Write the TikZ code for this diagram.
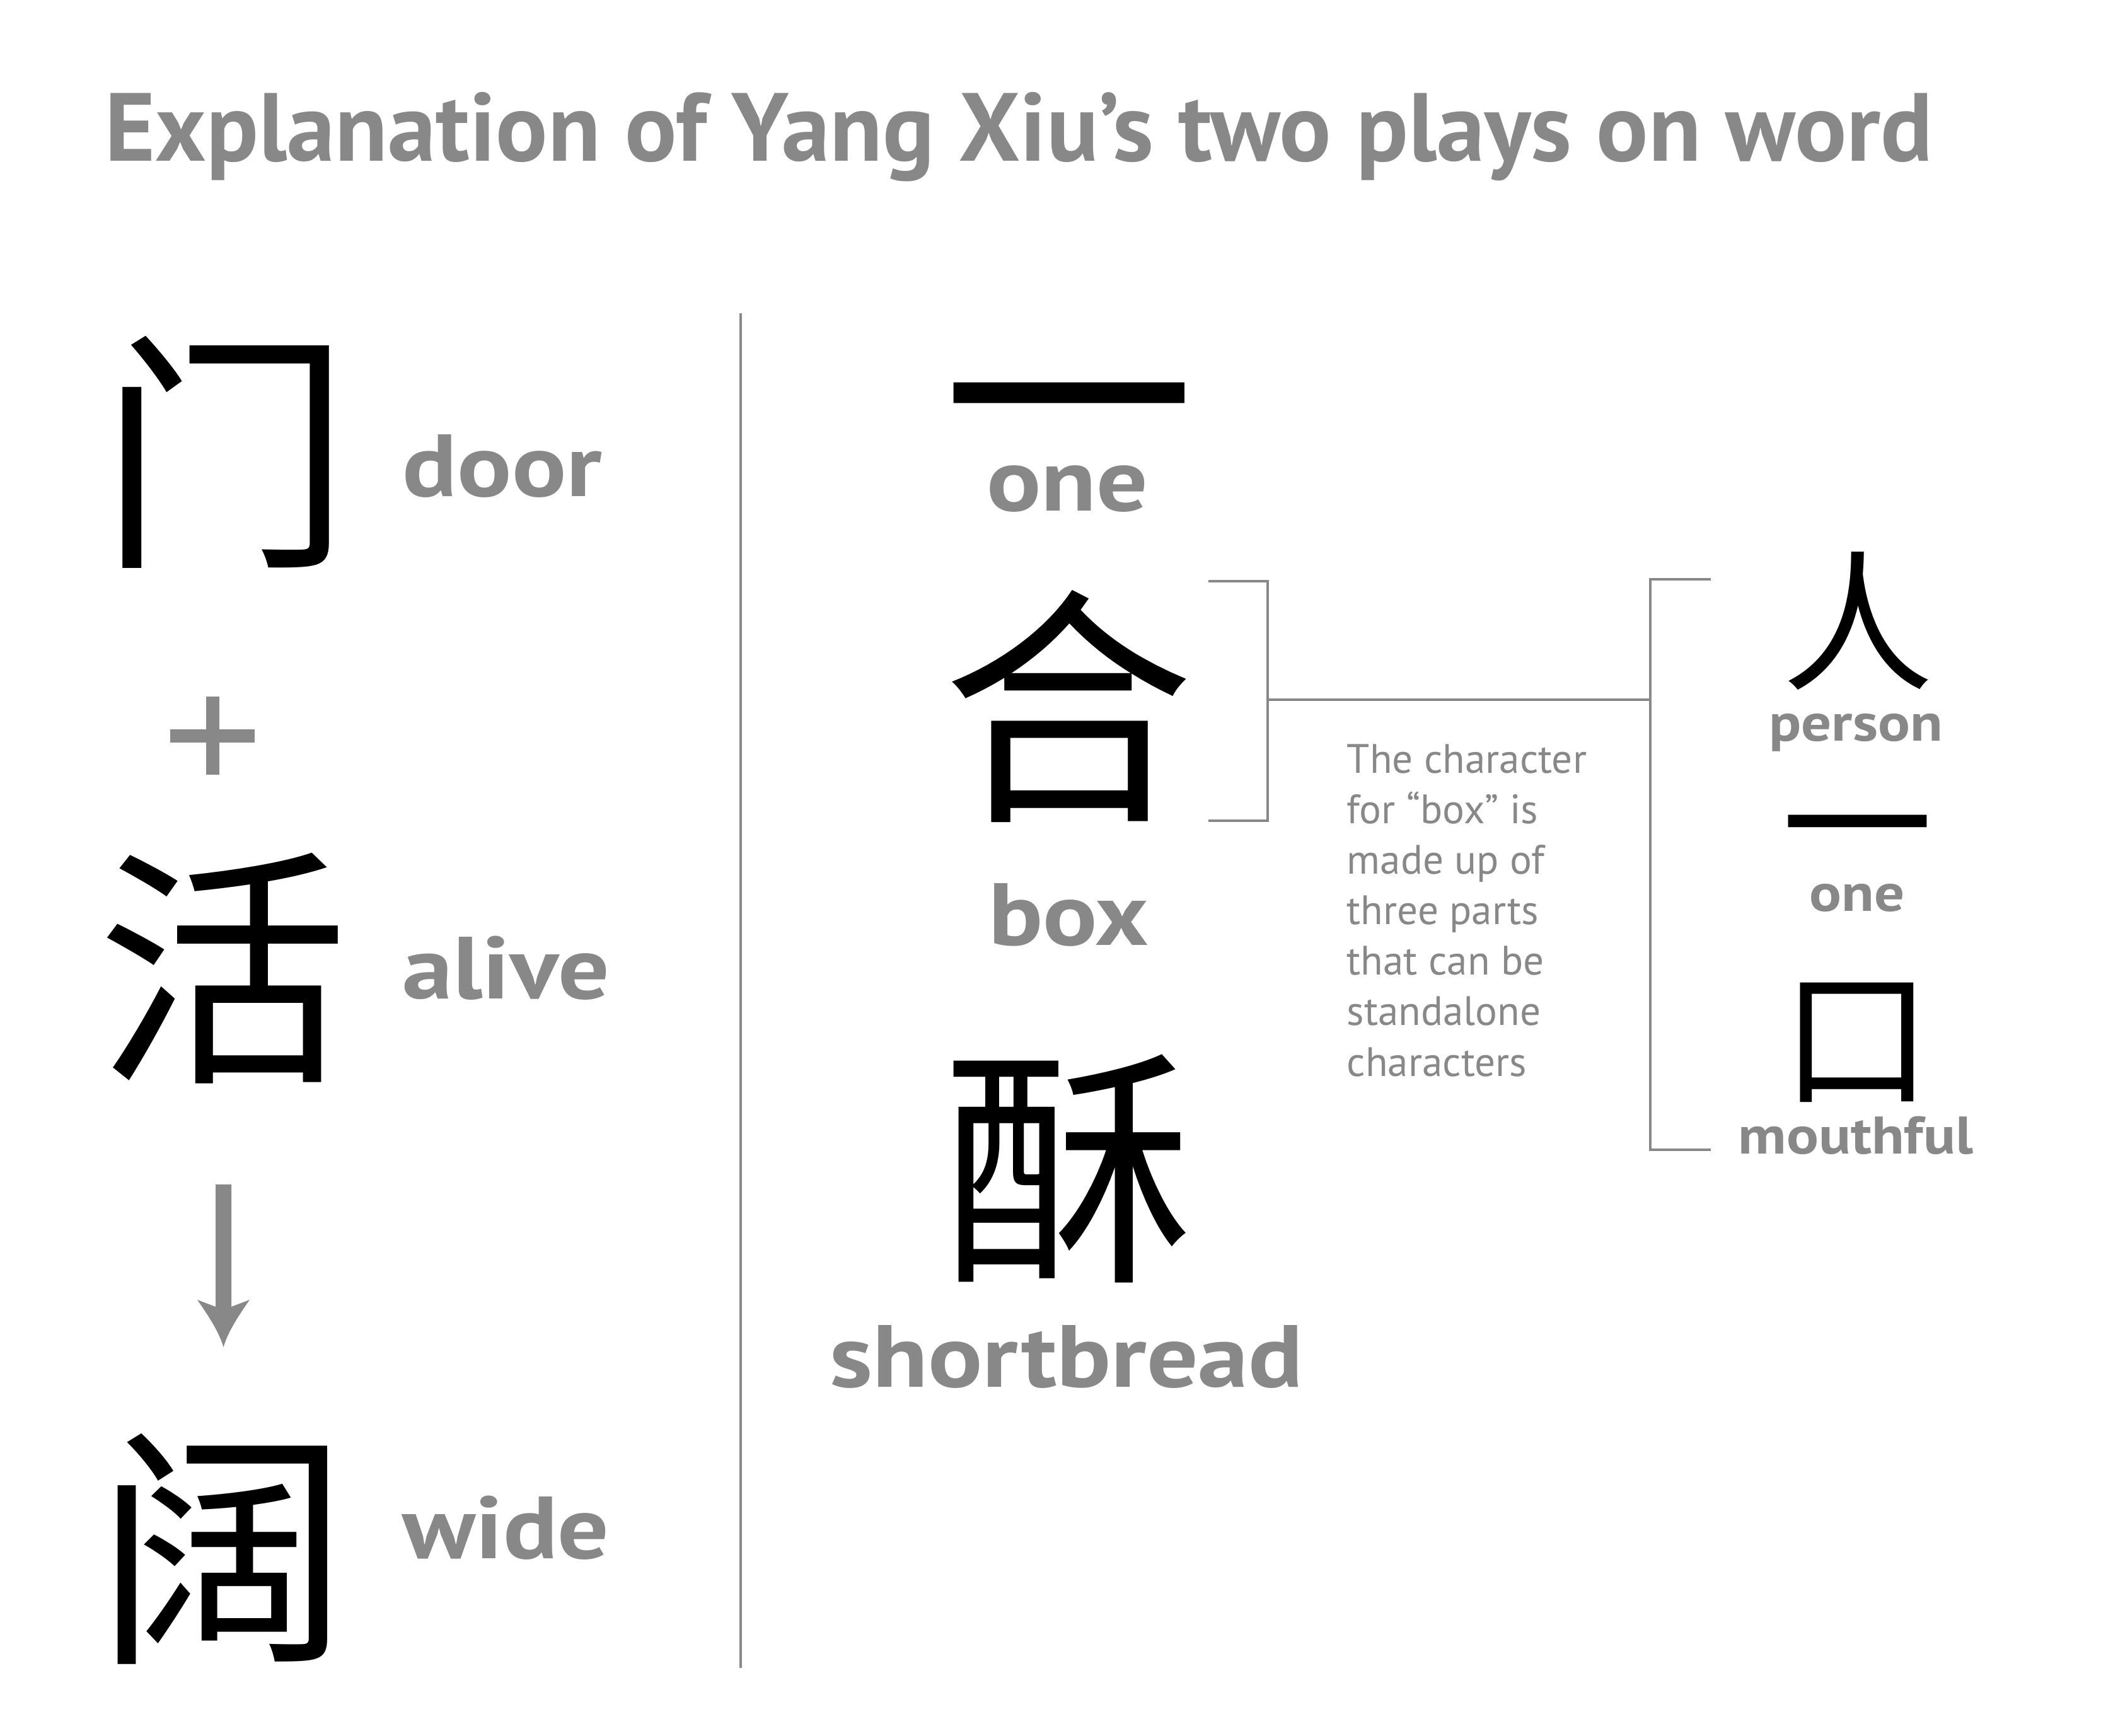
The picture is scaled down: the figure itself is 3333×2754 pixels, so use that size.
\documentclass[tikz,border=0pt]{standalone}
\usepackage{graphicx}
\usepackage{fontspec}
\setmainfont{PT Sans}
\newfontfamily\cjk{Noto Sans CJK SC}
\definecolor{gr}{HTML}{888888}
\newcommand\mainlab[1]{\scalebox{1.15}[1]{#1}}
\newcommand\sidelab[1]{\scalebox{1.13}[1]{#1}}
\tikzset{
  ttl/.style={text=gr, font=\bfseries\fontsize{38.4}{42}\selectfont, inner sep=0, anchor=base west},
  lab/.style={text=gr, font=\bfseries\fontsize{35}{40}\selectfont, inner sep=0},
  slab/.style={text=gr, font=\bfseries\fontsize{21}{24}\selectfont, inner sep=0, anchor=base},
  para/.style={text=gr, font=\fontsize{16.3}{20}\selectfont, inner sep=0, anchor=base west},
  big/.style={font=\cjk\fontsize{100}{100}\selectfont, inner sep=0, text height=80pt, text depth=4pt},
  bigbar/.style={font=\cjk\fontsize{100}{100}\selectfont, inner sep=0, text height=44pt, text depth=0pt},
  small/.style={font=\cjk\fontsize{60}{60}\selectfont, inner sep=0, text height=48pt, text depth=2.4pt},
  smallbar/.style={font=\cjk\fontsize{60}{60}\selectfont, inner sep=0, text height=26.4pt, text depth=0pt},
  thin/.style={draw=gr, line width=1pt},
}
\begin{document}
\begin{tikzpicture}[x=0.25pt,y=-0.25pt]
\useasboundingbox (0,0) rectangle (3333,2754);
\fill[white] (0,0) rectangle (3333,2754);
% title
\node[ttl] (title) at (166,255) {Explanation of Yang Xiu’s two plays on word};
% left column
\node[big] (men) at (357,717) {门};
\node[lab, anchor=base west] (door) at (638,787) {\mainlab{door}};
\node[big] (huo) at (353,1535) {活};
\node[lab, anchor=base west] (alive) at (638,1584) {\mainlab{alive}};
\node[big] (kuo) at (353,2455) {阔};
\node[lab, anchor=base west] (wide) at (638,2472) {\mainlab{wide}};
% plus
\coordinate (plusc) at (337,1167);
\draw[gr, line width=5.25pt] ([xshift=-67*0.25pt]plusc) -- ([xshift=67*0.25pt]plusc);
\draw[gr, line width=5.25pt] ([yshift=62*0.25pt]plusc) -- ([yshift=-62*0.25pt]plusc);
% arrow
\fill[gr] (342,1879) -- (367,1879) -- (367,2073) -- (396,2062)
  .. controls (378,2088) and (362,2112) .. (354.5,2137)
  .. controls (347,2112) and (331,2088) .. (313,2062) -- (342,2073) -- cycle;
% divider
\coordinate (dtop) at (1175,497);
\coordinate (dbot) at (1175,2646);
\draw[thin] (dtop) -- (dbot);
% middle column
\node[bigbar] (yi) at (1695,691) {一};
\node[lab, anchor=base] (one) at (1693,810) {\mainlab{one}};
\node[big] (he) at (1694,1121) {合};
\node[lab, anchor=base] (box) at (1695,1499) {\mainlab{box}};
\node[big] (su) at (1695,1851) {酥};
\node[lab, anchor=base] (shortbread) at (1692,2200) {\mainlab{shortbread}};
% brackets
\coordinate (lb1) at (1917,922);
\coordinate (lb2) at (2011,922);
\coordinate (lb3) at (2011,1302);
\coordinate (lb4) at (1917,1302);
\coordinate (mid1) at (2011,1110);
\coordinate (mid2) at (2618,1110);
\coordinate (rb1) at (2714,919);
\coordinate (rb2) at (2618,919);
\coordinate (rb3) at (2618,1824);
\coordinate (rb4) at (2714,1824);
\draw[thin] (lb1) -- (lb2) -- (lb3) -- (lb4);
\draw[thin] (mid1) -- (mid2);
\draw[thin] (rb1) -- (rb2) -- (rb3) -- (rb4);
% paragraph
\node[para] (p1) at (2136,1226) {The character};
\node[para] (p2) at (2136,1306) {for “box” is};
\node[para] (p3) at (2136,1386) {made up of};
\node[para] (p4) at (2136,1466) {three parts};
\node[para] (p5) at (2136,1546) {that can be};
\node[para] (p6) at (2136,1626) {standalone};
\node[para] (p7) at (2136,1707) {characters};
% right column
\node[small] (ren) at (2947,985) {人};
\node[slab] (person) at (2944,1175) {\sidelab{person}};
\node[smallbar] (yi2) at (2946,1344) {一};
\node[slab] (one2) at (2946,1445) {\sidelab{one}};
\node[small] (kou) at (2945,1644) {口};
\node[slab] (mouthful) at (2944,1830) {\sidelab{mouthful}};
\end{tikzpicture}
\end{document}
